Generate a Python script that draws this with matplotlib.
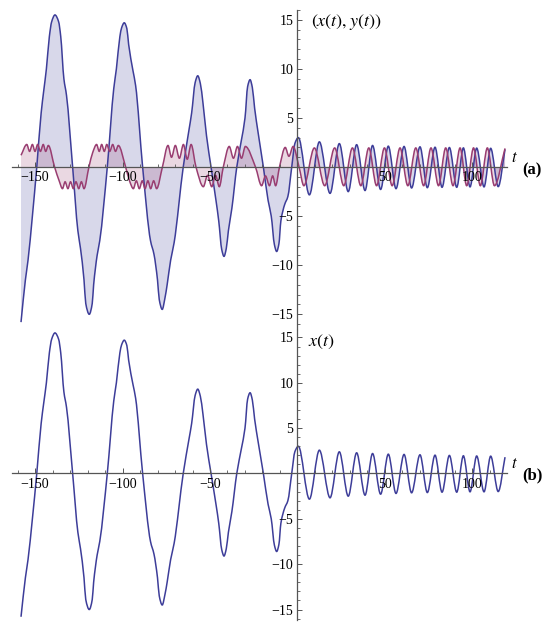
import numpy as np
import matplotlib
matplotlib.use('Agg')
import matplotlib.pyplot as plt
from matplotlib.path import Path
from matplotlib.patches import PathPatch
from matplotlib.ticker import MultipleLocator, FixedLocator

plt.rcParams['font.family'] = 'serif'
plt.rcParams['font.serif'] = ['Liberation Serif', 'DejaVu Serif']
plt.rcParams['mathtext.fontset'] = 'stix'

# x(t): extrema and shoulder points
x_t = [-158, -155.5, -154, -151.5, -149, -146.5, -145, -143.5, -141.8, -140.5, -138.6,
       -136.5, -135.3, -133.5, -132, -128.5, -125.5, -124, -122, -121, -119, -117.3,
       -116.5, -114.5, -113, -108.7, -105, -103.5, -101.5, -100.5, -99,
       -97.5, -96.5, -94, -92.5, -88.5, -84, -82, -80, -79, -77.3, -75.7,
       -74.5, -72.5, -70.5, -65.3, -62, -60.5, -58.5, -57, -55.5,
       -54, -52, -49.4, -46.5, -45, -43.3, -42, -40.7,
       -39.5, -37.5, -34.7, -32, -30, -28.5, -27.1, -25.8,
       -24.5, -22.5, -19.5, -16.8, -15, -13.2, -11.9, -10.6,
       -9.5, -7.3, -5.5, -3.3, -1.5, 0.5,
       6.8, 12.5, 18.6, 23.9, 29, 33.8, 38.6, 42.9, 47.5, 51.9, 56.3, 60.9,
       65.2, 70, 74.2, 78.6, 82.6, 86.8, 91, 94.8, 98.6, 102.4, 106.6, 110.4,
       114.7, 118.6]
x_v = [-15.8, -11.5, -9.5, -5, 0, 5.5, 7.8, 10, 13.3, 14.8, 15.5,
       14.8, 13.3, 9, 7.3, 0, -6.5, -8.3, -11.5, -13.9, -15, -13.9,
       -12, -9, -7.5, 0, 8, 10, 13.3, 14.2, 14.7,
       14.1, 12.5, 9.8, 8.3, 0, -7.5, -8.9, -11.5, -13.5, -14.5, -13.3,
       -12, -9.5, -7.7, 0, 3.8, 5.5, 8.6, 9.3, 8.5,
       6.5, 3.2, 0, -3.5, -5.5, -8.4, -9.1, -8.3,
       -6.5, -4.2, 0, 2.8, 5, 8.2, 8.9, 8.1,
       6, 3.5, 0, -3.4, -5, -7.9, -8.6, -7.8,
       -5.5, -3.8, -3, 0, 2.4, 3.0,
       -2.83, 2.57, -2.68, 2.39, -2.5, 2.28, -2.39, 2.2, -2.28, 2.13, -2.2, 2.1,
       -2.13, 2.06, -2.1, 2.02, -2.06, 1.99, -2.06, 1.95, -2.02, 1.93, -2.02, 1.91,
       -1.99, 1.8]

# y(t): ripple extrema and zero crossings
y_t = [-158, -154.7, -153.1, -151.5, -150, -148.5, -146.9, -145.3, -143.9, -142.4, -138.8,
       -136.2, -134.3, -132.8, -131.2, -129.7, -128.1, -126.6, -125, -123.5, -122, -119.2,
       -117, -114.8, -113.3, -111.9, -110.4, -109, -107.3, -105.6, -104, -102.4, -98.2,
       -96, -93.8, -92.1, -90.4, -88.7, -87.1, -85.5, -83.9, -82.2, -80.5, -77.2,
       -74, -72, -69.8, -67.5, -65.2, -63, -60.8, -58,
       -53.8, -51.4, -49, -46.8, -44.7, -42.4,
       -39, -36.6, -34.3, -32, -29.8, -24,
       -20.5, -18.3, -16, -14.2, -12.5, -10.3,
       -7, -4.9, -2.5, 0.9,
       3.65, 9.65, 15.55, 21.25, 26.45, 31.4, 36.2, 40.75, 45.2, 49.7, 54.1, 58.6,
       63.05, 67.6, 72.1, 76.3, 80.6, 84.7, 88.9, 92.9, 96.7, 100.6, 104.5, 108.5,
       112.55, 118.6]
y_v = [1.2, 2.3, 1.6, 2.3, 1.6, 2.3, 1.6, 2.3, 1.6, 2.2, 0,
       -1.4, -2.2, -1.5, -2.2, -1.5, -2.2, -1.5, -2.2, -1.5, -2.2, 0,
       1.5, 2.3, 1.6, 2.3, 1.6, 2.3, 1.6, 2.3, 1.6, 2.2, 0,
       -1.4, -2.2, -1.4, -2.2, -1.4, -2.2, -1.4, -2.2, -1.4, -2.2, 0,
       2.2, 1.0, 2.2, 0.9, 2.3, 0.8, 2.3, 0,
       -2.0, -0.85, -2.0, -0.85, -2.0, 0,
       2.1, 0.9, 2.1, 0.9, 2.1, 0,
       -1.9, -0.9, -1.9, -0.9, -1.9, 0,
       2.0, 1.1, 2.1, 0,
       -1.9, 1.95, -1.9, 1.95, -1.9, 1.95, -1.9, 1.95, -1.9, 1.95, -1.9, 1.95,
       -1.9, 1.95, -1.9, 1.95, -1.9, 1.95, -1.9, 1.95, -1.9, 1.95, -1.9, 1.95,
       -1.9, 1.9]

x_ticks = [-150, -100, -50, 50, 100]
y_ticks = [-15, -10, -5, 5, 10, 15]

blue = '#3d3d99'
plum = '#993d71'


def smooth_path(ts, vs, closed=False):
    # monotone cubic (Bezier) through the read points
    t = np.asarray(ts, float)
    v = np.asarray(vs, float)
    h = np.diff(t)
    d = np.diff(v) / h
    m = np.zeros_like(v)
    for i in range(1, len(v) - 1):
        if d[i - 1] * d[i] > 0:
            w1 = 2 * h[i] + h[i - 1]
            w2 = h[i] + 2 * h[i - 1]
            m[i] = (w1 + w2) / (w1 / d[i - 1] + w2 / d[i])
    m[0], m[-1] = d[0], d[-1]
    verts = [(t[0], v[0])]
    codes = [Path.MOVETO]
    for i in range(len(h)):
        verts += [(t[i] + h[i] / 3, v[i] + m[i] * h[i] / 3),
                  (t[i + 1] - h[i] / 3, v[i + 1] - m[i + 1] * h[i] / 3),
                  (t[i + 1], v[i + 1])]
        codes += [Path.CURVE4] * 3
    if closed:
        verts += [(t[-1], 0), (t[0], 0), (t[0], v[0])]
        codes += [Path.LINETO, Path.LINETO, Path.CLOSEPOLY]
    return Path(verts, codes)


def style_axes(ax, ylim):
    ax.set_xlim(-163, 119.5)
    ax.set_ylim(*ylim)
    for s in ['top', 'right']:
        ax.spines[s].set_visible(False)
    for s in ['left', 'bottom']:
        ax.spines[s].set_position(('data', 0))
        ax.spines[s].set_color('#555555')
        ax.spines[s].set_linewidth(0.9)
    ax.xaxis.set_major_locator(FixedLocator(x_ticks))
    ax.xaxis.set_minor_locator(MultipleLocator(10))
    ax.yaxis.set_major_locator(FixedLocator(y_ticks))
    ax.yaxis.set_minor_locator(MultipleLocator(1))
    ax.tick_params(axis='x', which='major', direction='in', length=3.5, width=0.7,
                   color='#555555', labelsize=10, pad=3)
    ax.tick_params(axis='x', which='minor', direction='in', length=2, width=0.6,
                   color='#555555')
    ax.tick_params(axis='y', which='major', direction='in', length=3.8, width=0.7,
                   color='#555555', labelsize=10, pad=3)
    ax.tick_params(axis='y', which='minor', direction='in', length=2.2, width=0.6,
                   color='#555555')
    ax.patch.set_visible(False)


fig = plt.figure(figsize=(5.5, 6.31), dpi=100)
ax1 = fig.add_axes([0.0223, 0.4786, 0.8988, 0.5055])
ax2 = fig.add_axes([0.0223, 0.0168, 0.8988, 0.4599])

# panel (a): x(t) and y(t) with fills to zero
ax1.add_patch(PathPatch(smooth_path(x_t, x_v, True), facecolor=blue, alpha=0.2,
                        edgecolor='none', lw=0))
ax1.add_patch(PathPatch(smooth_path(y_t, y_v, True), facecolor=plum, alpha=0.2,
                        edgecolor='none', lw=0))
ax1.add_patch(PathPatch(smooth_path(x_t, x_v), facecolor='none', edgecolor=blue, lw=1.1))
ax1.add_patch(PathPatch(smooth_path(y_t, y_v), facecolor='none', edgecolor=plum, lw=1.1))
style_axes(ax1, (-16.5, 16))
ax1.text(7.5, 14.8, r'$(x(t),y(t))$', fontsize=13, va='center', ha='left')
ax1.text(122, 0.9, r'$t$', fontsize=12, va='center', ha='left')
ax1.text(134, -0.3, '(a)', fontsize=12, fontweight='bold', va='center', ha='center',
         clip_on=False)

# panel (b): x(t) alone
ax2.add_patch(PathPatch(smooth_path(x_t, x_v), facecolor='none', edgecolor=blue, lw=1.1))
style_axes(ax2, (-16.2, 15.8))
ax2.text(6, 14.5, r'$x(t)$', fontsize=13, va='center', ha='left')
ax2.text(122, 1.1, r'$t$', fontsize=12, va='center', ha='left')
ax2.text(134, -0.2, '(b)', fontsize=12, fontweight='bold', va='center', ha='center',
         clip_on=False)

fig.savefig('out.png', dpi=100, facecolor='white')
